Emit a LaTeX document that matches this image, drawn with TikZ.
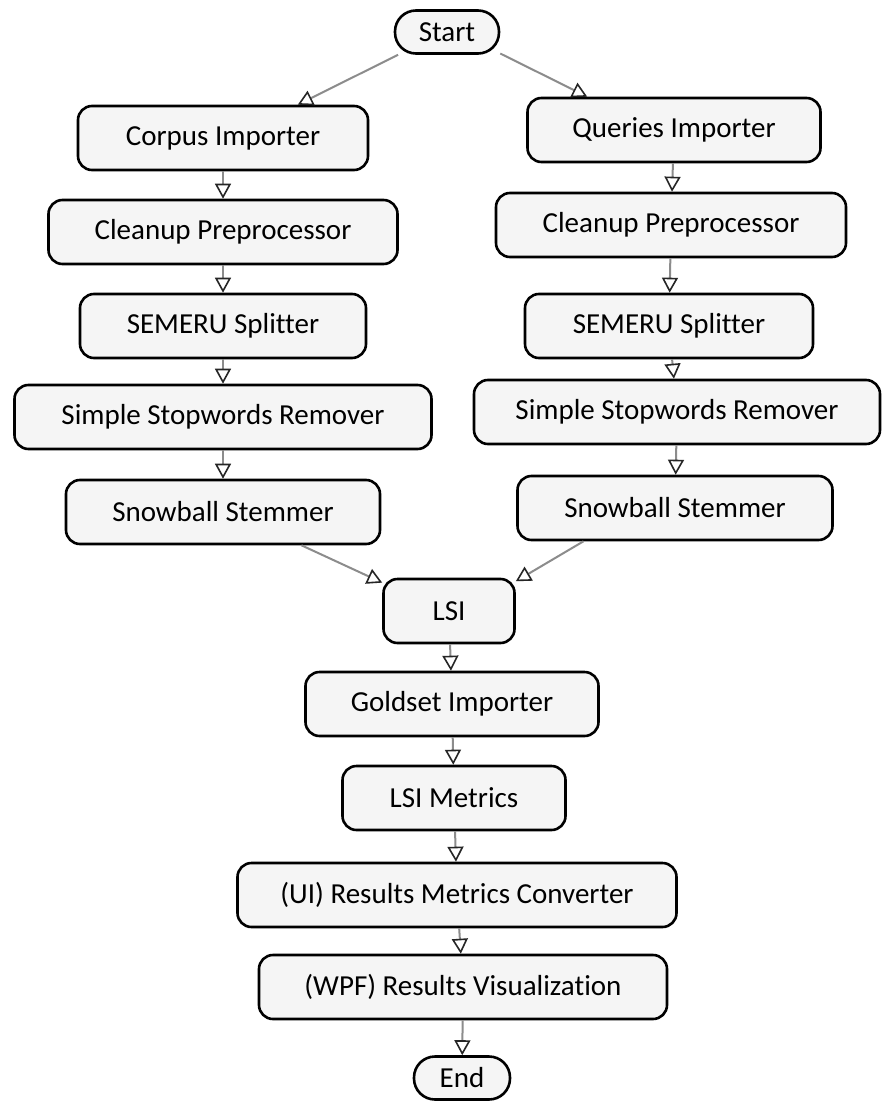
\documentclass[tikz,border=0pt]{standalone}
\usepackage{fontspec}
\setmainfont{Carlito}[Ligatures=NoCommon]
\usetikzlibrary{arrows.meta}

\tikzset{
  box/.style={draw=black, line width=2.6pt, rounded corners=14pt, fill=black!4,
    minimum height=64pt, inner sep=0pt, font=\fontsize{29}{31}\selectfont},
  term/.style={box, rounded corners=21pt, minimum height=43pt},
  flow/.style={draw=black!45, line width=2pt,
    -{Triangle[open, length=15pt, width=16pt, color=black!85, line width=1.6pt]}}
}

\begin{document}
\begin{tikzpicture}[x=1pt, y=-1pt]
    \fill[white] (0,0) rectangle (884,1102);
    \useasboundingbox (0,0) rectangle (884,1102);
    \node[term, minimum width=104pt] (start) at (447,32) {Start};
    \node[box, minimum width=290pt] (corpus) at (223,138) {Corpus Importer};
    \node[box, minimum width=293pt] (queries) at (674,130) {Queries Importer};
    \node[box, minimum width=349pt] (cleanL) at (223,232) {Cleanup Preprocessor};
    \node[box, minimum width=350pt] (cleanR) at (671,225) {Cleanup Preprocessor};
    \node[box, minimum width=286pt] (splitL) at (223,326) {SEMERU Splitter};
    \node[box, minimum width=288pt] (splitR) at (669,326) {SEMERU Splitter};
    \node[box, minimum width=417pt] (stopL) at (223,417) {Simple Stopwords Remover};
    \node[box, minimum width=406pt] (stopR) at (677,412) {Simple Stopwords Remover};
    \node[box, minimum width=314pt] (stemL) at (223,512) {Snowball Stemmer};
    \node[box, minimum width=315pt] (stemR) at (675,508) {Snowball Stemmer};
    \node[box, minimum width=131pt] (lsi) at (449,611) {LSI};
    \node[box, minimum width=293pt] (gold) at (452,704) {Goldset Importer};
    \node[box, minimum width=223pt] (metrics) at (454,798) {LSI Metrics};
    \node[box, minimum width=439pt] (conv) at (457,895) {(UI) Results Metrics Converter};
    \node[box, minimum width=408pt] (vis) at (463,987) {(WPF) Results Visualization};
    \node[term, minimum width=96pt] (end) at (462,1078) {End};

    \draw[flow] (start.205) -- (corpus.24);
    \draw[flow] (start.-22) -- (queries.159);
    \draw[flow] (corpus) -- (cleanL);
    \draw[flow] (cleanL) -- (splitL);
    \draw[flow] (splitL) -- (stopL);
    \draw[flow] (stopL) -- (stemL);
    \draw[flow] (queries) -- (cleanR);
    \draw[flow] (cleanR) -- (splitR);
    \draw[flow] (splitR) -- (stopR);
    \draw[flow] (stopR) -- (stemR);
    \draw[flow] (stemL.-23) -- (lsi.157);
    \draw[flow] (stemR.200) -- (lsi.24);
    \draw[flow] (lsi) -- (gold);
    \draw[flow] (gold) -- (metrics);
    \draw[flow] (metrics) -- (conv);
    \draw[flow] (conv) -- (vis);
    \draw[flow] (vis) -- (end);
\end{tikzpicture}
\end{document}
